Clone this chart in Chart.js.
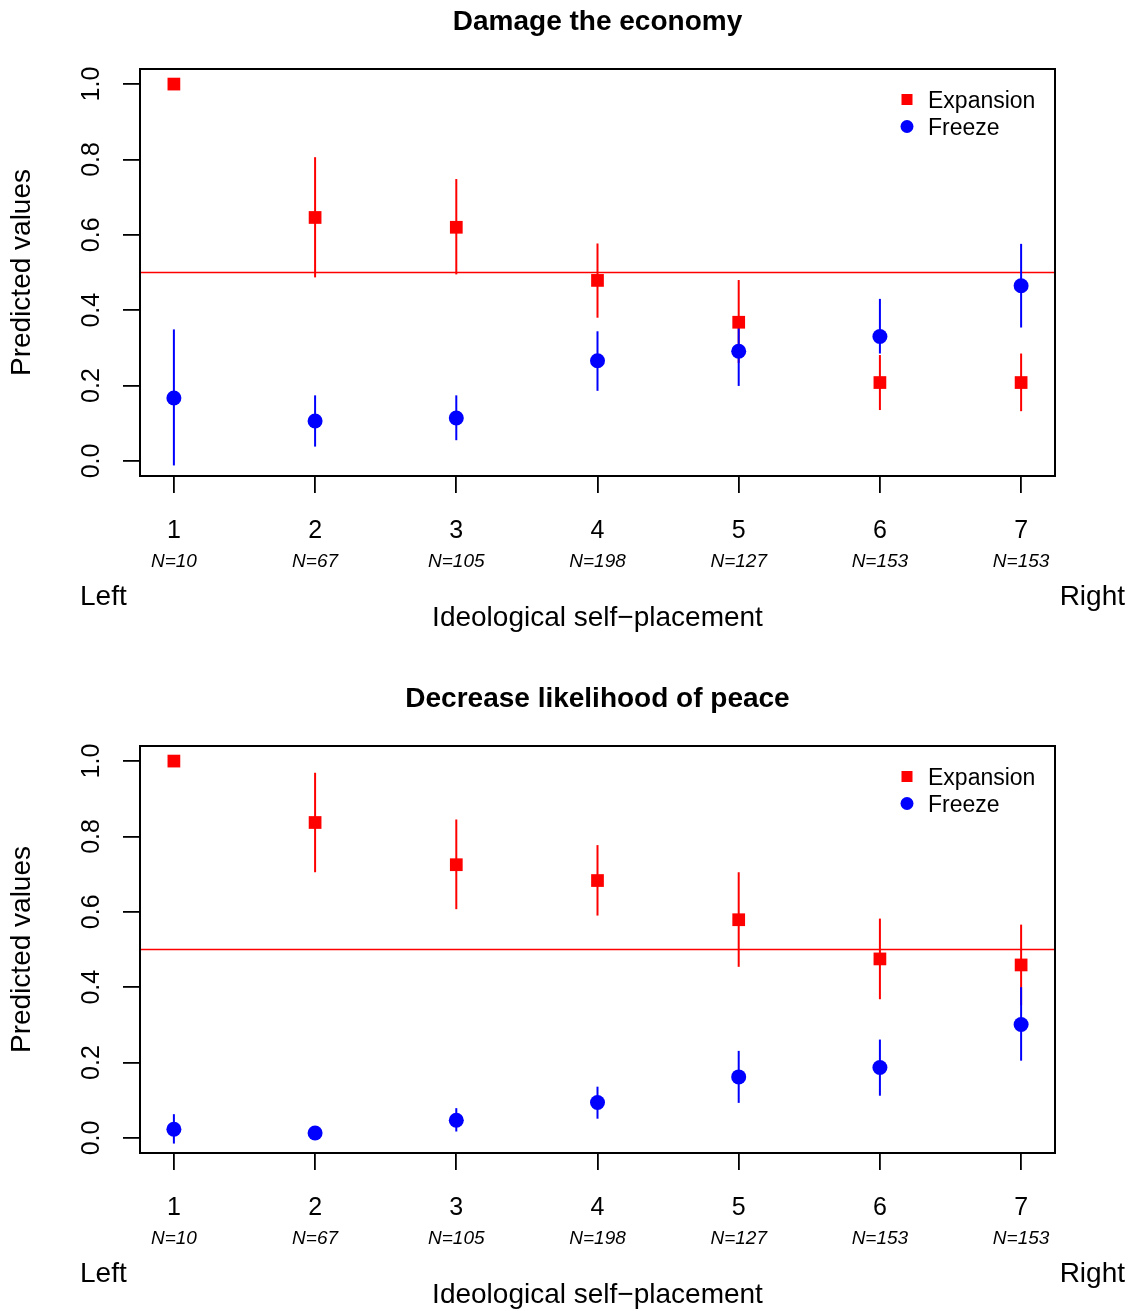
<!DOCTYPE html>
<html>
<head>
<meta charset="utf-8">
<script src="https://cdn.jsdelivr.net/npm/chart.js@4.4.1/dist/chart.umd.min.js"></script>
<style>
  html, body { margin: 0; padding: 0; background: #ffffff; }
  #wrap { position: relative; width: 1135px; height: 1311px; }
  .panel { position: absolute; left: 0; }
</style>
</head>
<body>
<div id="wrap">
  <div class="panel" style="top:0px"><canvas id="c1" width="1135" height="677"></canvas></div>
  <div class="panel" style="top:677px"><canvas id="c2" width="1135" height="634"></canvas></div>
</div>
<script>
// ---------------- data ----------------
const xCats = [1, 2, 3, 4, 5, 6, 7];
const nLabels = ['N=10', 'N=67', 'N=105', 'N=198', 'N=127', 'N=153', 'N=153'];
const yTicks = [0, 0.2, 0.4, 0.6, 0.8, 1.0];
const yTickLabels = ['0.0', '0.2', '0.4', '0.6', '0.8', '1.0'];
const seriesNames = ['Expansion', 'Freeze'];
const refLine = 0.5;

// Panel 1: Damage the economy
const econTitle = 'Damage the economy';
const econExp   = [1.000, 0.646, 0.620, 0.479, 0.368, 0.208, 0.208];
const econExpLo = [1.000, 0.487, 0.495, 0.380, 0.260, 0.135, 0.132];
const econExpHi = [1.000, 0.806, 0.748, 0.577, 0.480, 0.281, 0.285];
const econFrz   = [0.167, 0.106, 0.114, 0.266, 0.291, 0.330, 0.465];
const econFrzLo = [-0.012, 0.038, 0.055, 0.186, 0.199, 0.285, 0.354];
const econFrzHi = [0.349, 0.174, 0.174, 0.344, 0.370, 0.430, 0.576];

// Panel 2: Decrease likelihood of peace
const peaceTitle = 'Decrease likelihood of peace';
const peaceExp   = [1.000, 0.837, 0.725, 0.683, 0.579, 0.475, 0.459];
const peaceExpLo = [1.000, 0.705, 0.607, 0.590, 0.454, 0.368, 0.352];
const peaceExpHi = [1.000, 0.969, 0.845, 0.777, 0.705, 0.582, 0.566];
const peaceFrz   = [0.023, 0.013, 0.047, 0.094, 0.162, 0.187, 0.301];
const peaceFrzLo = [-0.015, 0.005, 0.017, 0.051, 0.093, 0.112, 0.205];
const peaceFrzHi = [0.063, 0.022, 0.079, 0.136, 0.231, 0.261, 0.400];

const xTitle = 'Ideological self\u2212placement';
const yTitle = 'Predicted values';
const leftLabel = 'Left';
const rightLabel = 'Right';

// ---------------- drawing ----------------
const RED = '#FF0000';
const BLUE = '#0000FF';
const FONT = '"Liberation Sans", Arial, Helvetica, sans-serif';

function toPoints(vals) { return xCats.map((x, i) => ({ x: x, y: vals[i] })); }

function makeChart(canvasId, title, exp, expLo, expHi, frz, frzLo, frzHi) {
  const canvas = document.getElementById(canvasId);
  const H = canvas.height;

  const panelPlugin = {
    id: 'panelPlugin',
    beforeDatasetsDraw(chart) {
      const ctx = chart.ctx, xs = chart.scales.x, ys = chart.scales.y, a = chart.chartArea;
      ctx.save();
      ctx.beginPath();
      ctx.rect(a.left, a.top, a.right - a.left, a.bottom - a.top);
      ctx.clip();
      // reference line
      ctx.strokeStyle = RED;
      ctx.lineWidth = 1.6;
      const yr = ys.getPixelForValue(refLine);
      ctx.beginPath(); ctx.moveTo(a.left, yr); ctx.lineTo(a.right, yr); ctx.stroke();
      // error bars
      ctx.lineWidth = 2;
      const bars = [[expLo, expHi, RED], [frzLo, frzHi, BLUE]];
      bars.forEach(([lo, hi, col]) => {
        ctx.strokeStyle = col;
        xCats.forEach((xv, i) => {
          const px = xs.getPixelForValue(xv);
          ctx.beginPath();
          ctx.moveTo(px, ys.getPixelForValue(lo[i]));
          ctx.lineTo(px, ys.getPixelForValue(hi[i]));
          ctx.stroke();
        });
      });
      ctx.restore();
    },
    afterDraw(chart) {
      const ctx = chart.ctx, xs = chart.scales.x, ys = chart.scales.y, a = chart.chartArea;
      const cx = (a.left + a.right) / 2;
      ctx.save();
      // box
      ctx.strokeStyle = '#000';
      ctx.lineWidth = 2;
      ctx.strokeRect(a.left, a.top, a.right - a.left, a.bottom - a.top);
      ctx.fillStyle = '#000';
      // title
      ctx.font = 'bold 28px ' + FONT;
      ctx.textAlign = 'center';
      ctx.textBaseline = 'alphabetic';
      ctx.fillText(title, cx, 30);
      // y tick labels (rotated)
      ctx.font = '25px ' + FONT;
      yTicks.forEach((v, i) => {
        const py = ys.getPixelForValue(v);
        ctx.save();
        ctx.translate(92, py);
        ctx.rotate(-Math.PI / 2);
        ctx.textAlign = 'center';
        ctx.textBaseline = 'middle';
        ctx.fillText(yTickLabels[i], 0, 0);
        ctx.restore();
      });
      // y title
      ctx.font = '28px ' + FONT;
      ctx.save();
      ctx.translate(22, (a.top + a.bottom) / 2);
      ctx.rotate(-Math.PI / 2);
      ctx.textAlign = 'center';
      ctx.textBaseline = 'middle';
      ctx.fillText(yTitle, 0, 0);
      ctx.restore();
      // x tick labels and N labels
      ctx.textAlign = 'center';
      ctx.textBaseline = 'alphabetic';
      xCats.forEach((v, i) => {
        const px = xs.getPixelForValue(v);
        ctx.font = '25px ' + FONT;
        ctx.fillText(String(v), px, 538);
        ctx.font = 'italic 19px ' + FONT;
        ctx.fillText(nLabels[i], px, 567);
      });
      // Left / Right
      ctx.font = '28px ' + FONT;
      ctx.textAlign = 'left';
      ctx.fillText(leftLabel, 80, 605);
      ctx.textAlign = 'right';
      ctx.fillText(rightLabel, 1125, 605);
      // x title
      ctx.textAlign = 'center';
      ctx.fillText(xTitle, cx, 626);
      // legend
      ctx.fillStyle = RED;
      ctx.fillRect(907 - 5.5, 99.5 - 5.5, 11, 11);
      ctx.fillStyle = BLUE;
      ctx.beginPath(); ctx.arc(907, 126.5, 6.5, 0, Math.PI * 2); ctx.fill();
      ctx.fillStyle = '#000';
      ctx.font = '23px ' + FONT;
      ctx.textAlign = 'left';
      ctx.fillText(seriesNames[0], 928, 108);
      ctx.fillText(seriesNames[1], 928, 135);
      ctx.restore();
    }
  };

  return new Chart(canvas, {
    type: 'scatter',
    data: {
      datasets: [
        { label: seriesNames[1], data: toPoints(frz), pointStyle: 'circle', pointRadius: 7.5,
          backgroundColor: BLUE, borderColor: BLUE, borderWidth: 0, pointHoverRadius: 7.5 },
        { label: seriesNames[0], data: toPoints(exp), pointStyle: 'rect', pointRadius: 9,
          backgroundColor: RED, borderColor: RED, borderWidth: 0, pointHoverRadius: 9 }
      ]
    },
    options: {
      responsive: false,
      animation: false,
      devicePixelRatio: 1,
      layout: { padding: { left: 123, right: 80, top: 69, bottom: H - 476 - 17 } },
      plugins: { legend: { display: false }, title: { display: false }, tooltip: { enabled: false } },
      scales: {
        x: {
          type: 'linear', position: 'bottom', min: 0.76, max: 7.24,
          afterBuildTicks: (s) => { s.ticks = xCats.map(v => ({ value: v })); },
          afterFit: (s) => { s.height = 17; },
          ticks: { display: false },
          border: { display: false },
          grid: { drawOnChartArea: false, drawTicks: true, tickLength: 17, color: '#000', lineWidth: 1.8 }
        },
        y: {
          type: 'linear', position: 'left', min: -0.04, max: 1.04,
          afterBuildTicks: (s) => { s.ticks = yTicks.map(v => ({ value: v })); },
          afterFit: (s) => { s.width = 17; },
          ticks: { display: false },
          border: { display: false },
          grid: { drawOnChartArea: false, drawTicks: true, tickLength: 17, color: '#000', lineWidth: 1.8 }
        }
      }
    },
    plugins: [panelPlugin]
  });
}

makeChart('c1', econTitle, econExp, econExpLo, econExpHi, econFrz, econFrzLo, econFrzHi);
makeChart('c2', peaceTitle, peaceExp, peaceExpLo, peaceExpHi, peaceFrz, peaceFrzLo, peaceFrzHi);
</script>
</body>
</html>
